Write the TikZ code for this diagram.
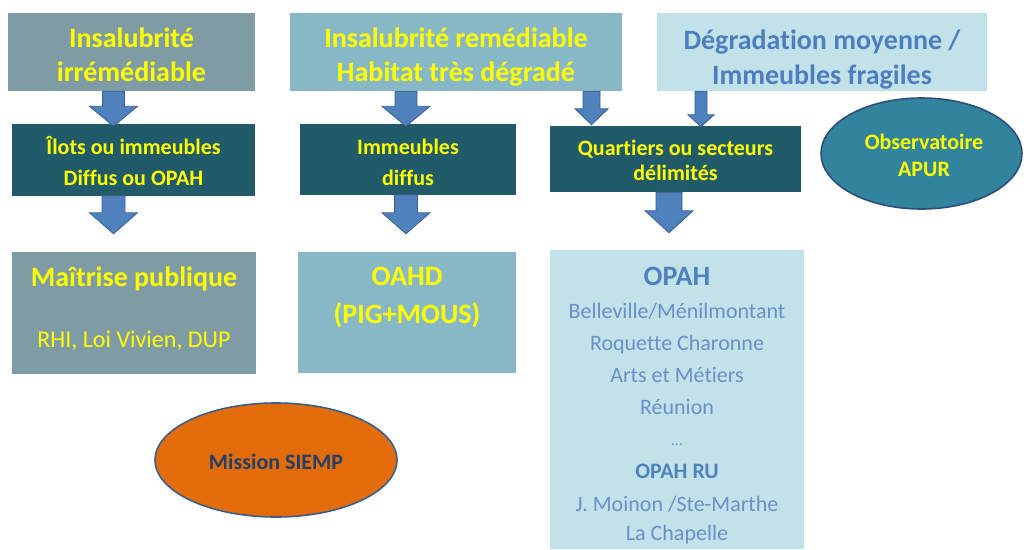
\documentclass[tikz,border=0pt]{standalone}
\usepackage{fontspec}
\setmainfont{Carlito}[Ligatures=CommonOff]
\usetikzlibrary{calc,shapes.geometric}
\definecolor{greyteal}{HTML}{7F9CA4}
\definecolor{midteal}{HTML}{88B8C6}
\definecolor{paleblue}{HTML}{C2E2EA}
\definecolor{darkteal}{HTML}{215A68}
\definecolor{arrfill}{HTML}{4F81BD}
\definecolor{arrline}{HTML}{3A5F8F}
\definecolor{ellteal}{HTML}{31849B}
\definecolor{ellline}{HTML}{2E4D7E}
\definecolor{siemp}{HTML}{E36C0A}
\definecolor{ylw}{HTML}{FFFF00}
\definecolor{bluetxt}{HTML}{4F7EC0}
\definecolor{lighttxt}{HTML}{6A8FCB}
\definecolor{navytxt}{HTML}{243F66}
\newcommand\blockarr[5]{% start, tip, shaft half, head half, head length
  \filldraw[arr] ($(#1)+(-#3,0)$) -- ($(#1)+(#3,0)$) -- ($(#2)+(#3,-#5)$) -- ($(#2)+(#4,-#5)$) -- (#2)
    -- ($(#2)+(-#4,-#5)$) -- ($(#2)+(-#3,-#5)$) -- cycle;}
\begin{document}
\begin{tikzpicture}[x=1pt,y=-1pt,
  box/.style={rectangle, inner sep=0pt, draw=none},
  arr/.style={fill=arrfill, draw=arrline, line width=0.8pt, line join=miter},
  tbig/.style={anchor=base, inner sep=0pt, yshift=-2pt, font=\fontsize{28}{33}\selectfont\bfseries},
  tmid/.style={anchor=base, inner sep=0pt, yshift=-2pt, font=\fontsize{22}{26}\selectfont\bfseries},
  treg/.style={anchor=base, inner sep=0pt, yshift=-2pt, font=\fontsize{22}{26}\selectfont},
  oval/.style={ellipse, inner sep=0pt, line width=1.6pt, draw=ellline}
]
\useasboundingbox[fill=white] (0,0) rectangle (1028,549);

% top row
\node[box, fill=greyteal, minimum width=247pt, minimum height=78pt] (A) at (131.5,52) {};
\node[box, fill=midteal, minimum width=332pt, minimum height=78pt] (B) at (456,52) {};
\node[box, fill=paleblue, minimum width=330pt, minimum height=78pt] (C) at (822,52) {};
\node[tbig, text=ylw] (a1) at (131.5,45) {Insalubrité};
\node[tbig, text=ylw] (a2) at (131.5,79) {irrémédiable};
\node[tbig, text=ylw] (b1) at (456,45) {Insalubrité remédiable};
\node[tbig, text=ylw] (b2) at (456,79) {Habitat très dégradé};
\node[tbig, text=bluetxt] (c1) at (822,47) {Dégradation moyenne /};
\node[tbig, text=bluetxt] (c2) at (822,82) {Immeubles fragiles};

% middle row
\node[box, fill=darkteal, minimum width=243pt, minimum height=72pt] (D) at (133.5,159.5) {};
\node[box, fill=darkteal, minimum width=216pt, minimum height=71pt] (E) at (408,159) {};
\node[box, fill=darkteal, minimum width=251pt, minimum height=66pt] (F) at (675.5,159) {};
\node[tmid, text=ylw] (d1) at (133.5,152) {Îlots ou immeubles};
\node[tmid, text=ylw] (d2) at (133.5,183) {Diffus ou OPAH};
\node[tmid, text=ylw] (e1) at (408,152) {Immeubles};
\node[tmid, text=ylw] (e2) at (408,183) {diffus};
\node[tmid, text=ylw] (f1) at (675.5,153) {Quartiers ou secteurs};
\node[tmid, text=ylw] (f2) at (675.5,178) {délimités};
\node[oval, fill=ellteal, minimum width=201pt, minimum height=111pt] (G) at (921.5,153.5) {};
\node[tmid, text=ylw] (g1) at (924,147) {Observatoire};
\node[tmid, text=ylw] (g2) at (924,174) {APUR};

% bottom row
\node[box, fill=greyteal, minimum width=244pt, minimum height=122pt] (H) at (134,313) {};
\node[box, fill=midteal, minimum width=218pt, minimum height=121pt] (I) at (407,312.5) {};
\node[box, fill=paleblue, minimum width=254pt, minimum height=299pt] (J) at (677,399.5) {};
\node[tbig, text=ylw] (h1) at (134,284) {Maîtrise publique};
\node[anchor=base, inner sep=0pt, yshift=-2pt, font=\fontsize{24}{28}\selectfont, text=ylw] (h2) at (134,345) {RHI, Loi Vivien, DUP};
\node[tbig, text=ylw] (i1) at (407,283) {OAHD};
\node[tbig, text=ylw] (i2) at (407,321) {(PIG+MOUS)};
\node[tbig, text=arrfill] (j1) at (677,283) {OPAH};
\node[treg, text=lighttxt] (j2) at (677,316) {Belleville/Ménilmontant};
\node[treg, text=lighttxt] (j3) at (677,348) {Roquette Charonne};
\node[treg, text=lighttxt] (j4) at (677,380) {Arts et Métiers};
\node[treg, text=lighttxt] (j5) at (677,412) {Réunion};
\node[treg, text=lighttxt, font=\fontsize{16}{20}\selectfont] (j6) at (677,443) {...};
\node[tmid, text=arrfill] (j7) at (677,476) {OPAH RU};
\node[treg, text=lighttxt] (j8) at (677,509) {J. Moinon /Ste-Marthe};
\node[treg, text=lighttxt] (j9) at (677,538) {La Chapelle};

\node[oval, fill=siemp, draw=arrline, minimum width=242pt, minimum height=114pt] (K) at (276,460) {};
\node[tmid, text=navytxt] (k1) at (276,467) {Mission SIEMP};

% arrow columns
\coordinate (xa) at (113.5,0);
\coordinate (xb) at (406,0);
\coordinate (xc) at (591.5,0);
\coordinate (xd) at (701,0);
\coordinate (xf) at (669,0);

\blockarr{A.south -| xa}{$(D.north -| xa)+(0,3)$}{11}{24}{20}
\blockarr{B.south -| xb}{$(E.north -| xb)+(0,3)$}{11}{24}{20}
\blockarr{B.south -| xc}{$(F.north -| xc)+(0,-1)$}{8.5}{16.5}{16}
\blockarr{C.south -| xd}{$(F.north -| xd)+(0,1)$}{6}{13}{12}
\blockarr{D.south -| xa}{$(H.north -| xa)+(0,-18)$}{11.5}{24}{21}
\blockarr{E.south -| xb}{$(I.north -| xb)+(0,-18)$}{11.5}{24}{21}
\blockarr{F.south -| xf}{$(J.north -| xf)+(0,-17)$}{13}{24}{22}
\end{tikzpicture}
\end{document}
